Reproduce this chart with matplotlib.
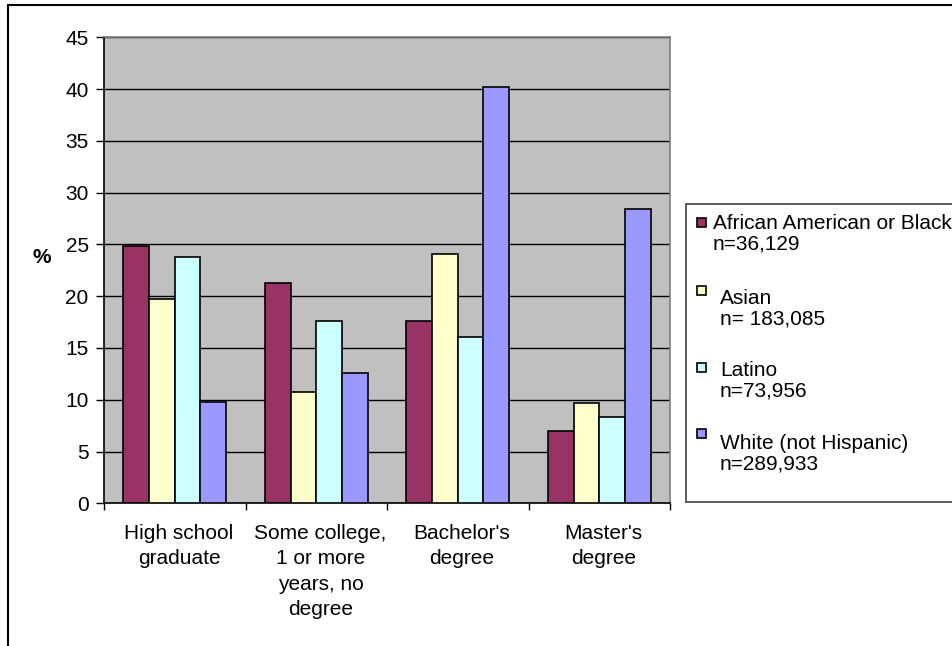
import numpy as np
import matplotlib
matplotlib.use("Agg")
import matplotlib.pyplot as plt
from matplotlib.patches import Rectangle

plt.rcParams['font.family'] = ['Liberation Sans', 'DejaVu Sans']

# data
categories = ["High school\ngraduate", "Some college,\n1 or more\nyears, no\ndegree",
              "Bachelor's\ndegree", "Master's\ndegree"]
series_names = ["African American or Black\nn=36,129", "Asian\nn= 183,085",
                "Latino\nn=73,956", "White (not Hispanic)\nn=289,933"]
black_vals = [24.8, 21.3, 17.6, 7.0]
asian_vals = [19.7, 10.7, 24.1, 9.7]
latino_vals = [23.8, 17.6, 16.1, 8.3]
white_vals = [9.8, 12.6, 40.2, 28.4]
yticks = list(range(0, 50, 5))

colors = ["#993366", "#FFFFCC", "#CCFFFF", "#9999FF"]
values = [black_vals, asian_vals, latino_vals, white_vals]

W, H = 952, 646
FS = 15

def fx(px):
    return px / W

def fy(py):
    return 1 - py / H

fig = plt.figure(figsize=(W / 100, H / 100), dpi=100)
fig.patch.set_facecolor("white")

# outer frame (runs off the right and bottom edge)
fig.patches.append(Rectangle((fx(8), fy(700)), fx(1000) - fx(8), fy(5) - fy(700),
                             transform=fig.transFigure, fill=False,
                             edgecolor="black", linewidth=1.5))

left, right, top, bottom = 104, 670, 37.3, 503.3
ax = fig.add_axes([fx(left), fy(bottom), fx(right - left), (bottom - top) / H])
ax.set_facecolor("#C0C0C0")

x = np.arange(len(categories))
w = 1 / 5.5
for i, (vals, c) in enumerate(zip(values, colors)):
    ax.bar(x + (i - 1.5) * w, vals, width=w, color=c, edgecolor="black",
           linewidth=1.2, zorder=3)

ax.set_xlim(-0.5, len(categories) - 0.5)
ax.set_ylim(0, 45)
ax.set_yticks(yticks)
ax.set_yticklabels([str(t) for t in yticks], fontsize=FS)
ax.yaxis.grid(True, color="black", linewidth=1.0, zorder=1)
ax.set_axisbelow(True)

# category boundaries get the ticks, labels sit at the centres
ax.set_xticks(np.arange(-0.5, len(categories), 1.0))
ax.set_xticklabels([])
ax.set_xticks(x + 0.03, minor=True)
ax.set_xticklabels(categories, minor=True, fontsize=FS, linespacing=1.42)
ax.tick_params(axis="x", which="minor", length=0, pad=15)
ax.tick_params(axis="x", which="major", length=5, width=1, direction="out")
ax.tick_params(axis="y", length=5.5, width=1, direction="out", pad=5.5)

for s in ("top", "right"):
    ax.spines[s].set_color("#808080")
    ax.spines[s].set_linewidth(1.2)
for s in ("left", "bottom"):
    ax.spines[s].set_color("black")
    ax.spines[s].set_linewidth(1.2)

fig.text(fx(42), fy(258), "%", fontsize=FS, fontweight="bold", ha="center", va="center")

# legend box
fig.patches.append(Rectangle((fx(686), fy(502)), fx(1000) - fx(686), fy(204) - fy(502),
                             transform=fig.transFigure, facecolor="white",
                             edgecolor="#404040", linewidth=1.2))
marker_y = [222, 290.5, 367, 433.5]
text_x = [713, 720, 720, 720]
text_y = [234, 309, 380.5, 454]
for name, c, my, tx, ty in zip(series_names, colors, marker_y, text_x, text_y):
    fig.patches.append(Rectangle((fx(697), fy(my + 4.5)), fx(9), 9 / H,
                                 transform=fig.transFigure, facecolor=c,
                                 edgecolor="black", linewidth=1.2))
    fig.text(fx(tx), fy(ty), name, fontsize=FS, ha="left", va="center", linespacing=1.12)

fig.savefig("out.png", dpi=100)
